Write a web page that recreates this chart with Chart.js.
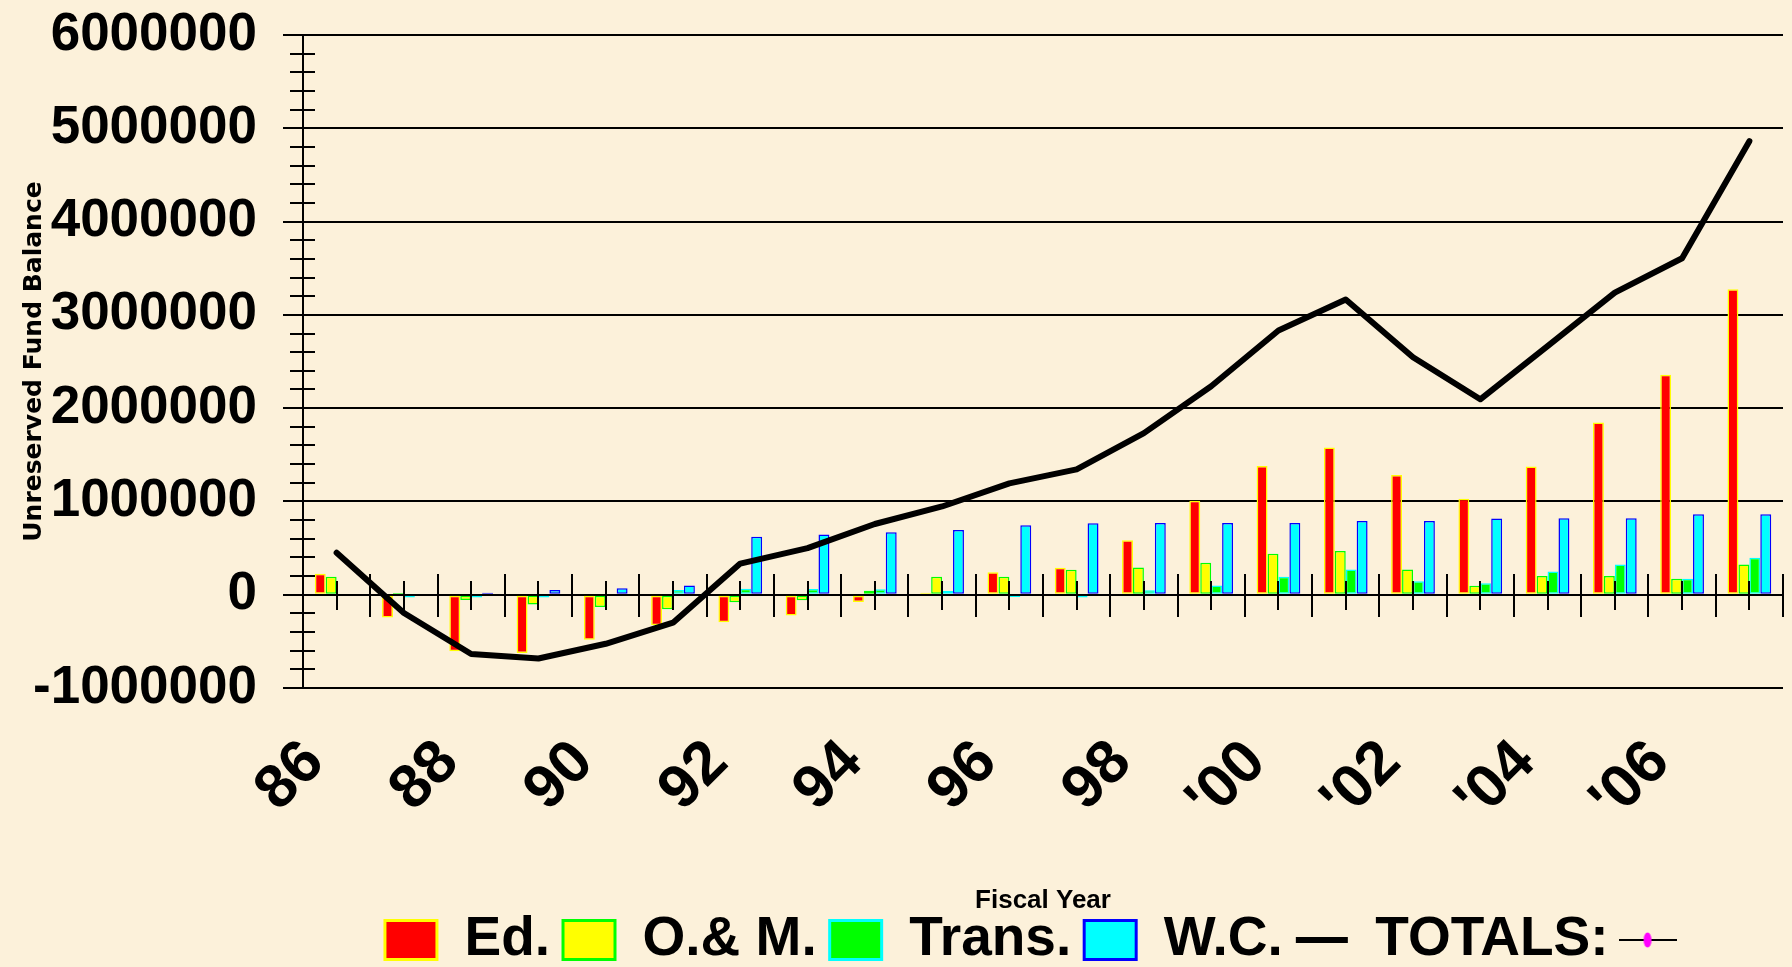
<!DOCTYPE html>
<html>
<head>
<meta charset="utf-8">
<title>Unreserved Fund Balance</title>
<script src="https://cdn.jsdelivr.net/npm/chart.js@4.4.1/dist/chart.umd.min.js"></script>
<style>
  html, body { margin: 0; padding: 0; overflow: hidden; background: #FCF1DA; }
  #wrap { position: relative; width: 1792px; height: 967px; }
</style>
</head>
<body>
<div id="wrap"><canvas id="chart"></canvas></div>
<script>
// Fiscal years on the category axis
const fiscalYears = ["86", "87", "88", "89", "90", "91", "92", "93", "94", "95", "96",
                     "97", "98", "99", "'00", "'01", "'02", "'03", "'04", "'05", "'06", "'07"];

// Unreserved fund balance per fund (dollars)
const edFund    = [225000, -245000, -607000, -625000, -484000, -328000, -294000, -222000, -78000, 20000, 240000,
                   289000, 585000, 1008000, 1380000, 1579000, 1284000, 1029000, 1375000, 1846000, 2358000, 3274000];
const omFund    = [193000, 18000, -56000, -105000, -133000, -155000, -82000, -60000, 42000, 193000, 193000,
                   268000, 293000, 342000, 440000, 468000, 270000, 97000, 200000, 200000, 170000, 325000];
const transFund = [0, -30000, -30000, -30000, 0, 50000, 65000, 62000, 58000, 40000, -25000,
                   -30000, 48000, 98000, 192000, 270000, 145000, 123000, 250000, 325000, 170000, 396000];
const wcFund    = [0, 0, 20000, 50000, 70000, 100000, 622000, 645000, 670000, 694000, 745000,
                   766000, 768000, 768000, 770000, 790000, 790000, 818000, 820000, 820000, 863000, 863000];
const totals    = [450000, -196000, -635000, -684000, -526000, -300000, 334000, 500000, 758000, 946000, 1194000,
                   1343000, 1732000, 2234000, 2833000, 3165000, 2546000, 2095000, 2665000, 3238000, 3607000, 4862000];

// Value axis range and tick steps
const valueMin = -1000000;
const valueMax = 6000000;
const majorStep = 1000000;
const minorStep = 200000;

// Pick a condensed bold face for the large labels when one is installed
function fontInstalled(name) {
  const c = document.createElement('canvas').getContext('2d');
  const probe = 'O.& M. 6000000 TOTALS: Trans.';
  let same = true;
  for (const generic of ['monospace', 'serif']) {
    c.font = 'bold 40px ' + generic;
    const a = c.measureText(probe).width;
    c.font = 'bold 40px "' + name + '", ' + generic;
    const b = c.measureText(probe).width;
    if (Math.abs(a - b) > 0.5) same = false;
  }
  return !same;
}
const narrow = fontInstalled('Liberation Sans Narrow');
const bigFamily = narrow ? '"Liberation Sans Narrow", "Liberation Sans", Arial, sans-serif'
                         : '"Liberation Sans", Arial, sans-serif';
const tickSize = narrow ? 64 : 53;
const yearSize = narrow ? 70 : 61;
const legendSize = narrow ? 66 : 55;

// Plot frame and the bottom band (axis labels, axis title, legend)
const plotLeft = 303;
const plotTop = 35;
const plotRightGap = 9;
const plotBottom = 688;
const legendPad = 13;
const legendMid = 940;
const legendTop = legendMid - legendSize / 2 - legendPad;
const xAxisHeight = legendTop - plotBottom;
const bottomPad = 967 - (legendTop + legendSize + legendPad + 10);

// Small legend glyph: a short rule with a magenta marker
const markerIcon = (() => {
  const c = document.createElement('canvas');
  c.width = 58; c.height = 18;
  const g = c.getContext('2d');
  g.strokeStyle = '#000'; g.lineWidth = 2;
  g.beginPath(); g.moveTo(0, 9); g.lineTo(58, 9); g.stroke();
  g.fillStyle = '#FF00FF';
  g.beginPath(); g.ellipse(29, 9, 4, 7.5, 0, 0, Math.PI * 2); g.fill();
  return c;
})();

// Minor value ticks across the value axis, and category ticks on the zero line
const axisMarks = {
  id: 'axisMarks',
  beforeDatasetDraw(chart, args) {
    if (args.meta.type !== 'line') return;
    const { ctx, scales: { x, y } } = chart;
    const axisX = chart.chartArea.left;
    const zeroY = Math.round(y.getPixelForValue(0));
    ctx.save();
    ctx.strokeStyle = '#000';
    ctx.lineWidth = 2;
    ctx.beginPath();
    for (let v = valueMin; v <= valueMax; v += minorStep) {
      if (v % majorStep === 0) continue;
      const py = Math.round(y.getPixelForValue(v));
      ctx.moveTo(axisX - 13, py);
      ctx.lineTo(axisX + 12, py);
    }
    const n = fiscalYears.length;
    for (let i = 0; i <= n; i++) {
      const px = Math.round(x.getPixelForValue(i - 0.5));
      ctx.moveTo(px, zeroY - 21);
      ctx.lineTo(px, zeroY + 22);
    }
    for (let i = 0; i < n; i++) {
      const px = Math.round(x.getPixelForValue(i));
      ctx.moveTo(px, zeroY - 14);
      ctx.lineTo(px, zeroY + 15);
    }
    ctx.stroke();
    ctx.restore();
  }
};

const barCommon = { type: 'bar', borderWidth: 1.5, borderSkipped: false, order: 1,
                    categoryPercentage: 0.65, barPercentage: 1.0 };

new Chart(document.getElementById('chart'), {
  data: {
    labels: fiscalYears,
    datasets: [
      Object.assign({ label: 'Ed.',    data: edFund,    backgroundColor: '#FF0000', borderColor: '#FFFF00' }, barCommon),
      Object.assign({ label: 'O.& M.', data: omFund,    backgroundColor: '#FFFF00', borderColor: '#00FF00' }, barCommon),
      Object.assign({ label: 'Trans.', data: transFund, backgroundColor: '#00FF00', borderColor: '#00FFFF' }, barCommon),
      Object.assign({ label: 'W.C.',   data: wcFund,    backgroundColor: '#00FFFF', borderColor: '#0000FF' }, barCommon),
      { type: 'line', label: 'TOTALS:', data: totals, borderColor: '#000000', backgroundColor: '#000000',
        borderWidth: 6, pointRadius: 0, pointHoverRadius: 0, tension: 0, fill: false, order: 0,
        borderCapStyle: 'round', borderJoinStyle: 'round' }
    ]
  },
  options: {
    responsive: true,
    maintainAspectRatio: false,
    devicePixelRatio: 1,
    animation: false,
    layout: { padding: { left: 0, right: plotRightGap, top: plotTop, bottom: bottomPad } },
    plugins: {
      tooltip: { enabled: false },
      legend: {
        position: 'bottom',
        fullSize: false,
        labels: {
          usePointStyle: true,
          pointStyleWidth: 52,
          boxHeight: 39,
          padding: legendPad,
          color: '#000',
          font: { family: bigFamily, size: legendSize, weight: 'bold' },
          generateLabels(chart) {
            const items = chart.data.datasets.map((ds, i) => ({
              text: ds.label,
              datasetIndex: i,
              fillStyle: ds.backgroundColor,
              strokeStyle: ds.borderColor,
              lineWidth: ds.type === 'line' ? 6 : 3,
              pointStyle: ds.type === 'line' ? 'line' : 'rect',
              fontColor: '#000',
              hidden: false
            }));
            items.push({ text: '', pointStyle: markerIcon, lineWidth: 0,
                         fillStyle: 'rgba(0,0,0,0)', strokeStyle: 'rgba(0,0,0,0)',
                         fontColor: '#000', hidden: false });
            return items;
          }
        }
      }
    },
    scales: {
      x: {
        offset: true,
        grid: { display: false, drawTicks: false },
        border: { display: false },
        ticks: {
          autoSkip: false,
          minRotation: 45,
          maxRotation: 45,
          padding: 43,
          labelOffset: -22,
          color: '#000',
          font: { family: bigFamily, size: yearSize, weight: 'bold', lineHeight: 1.0 },
          callback(value, index) { return index % 2 === 0 ? this.getLabelForValue(value) : ''; }
        },
        title: {
          display: true,
          text: 'Fiscal Year',
          color: '#000',
          font: { family: '"Liberation Sans", Arial, sans-serif', size: 26, weight: 'bold', lineHeight: 1.0 },
          padding: { top: 0, bottom: legendTop - 901 - 13 }
        },
        afterFit(scale) {
          scale.height = xAxisHeight;
          scale.paddingLeft = 0;
          scale.paddingRight = 0;
        }
      },
      y: {
        min: valueMin,
        max: valueMax,
        ticks: {
          stepSize: majorStep,
          padding: 26,
          color: '#000',
          font: { family: bigFamily, size: tickSize, weight: 'bold', lineHeight: 1.0 },
          callback(value) { return String(value); }
        },
        grid: { color: '#000', lineWidth: 2, tickLength: 20, tickColor: '#000', drawTicks: true },
        border: { display: true, color: '#000', width: 2 },
        title: {
          display: true,
          text: 'Unreserved Fund Balance',
          color: '#000',
          font: { family: '"DejaVu Sans", sans-serif', size: 25, weight: 'bold', lineHeight: 1.2 },
          padding: { top: 19, bottom: 0 }
        },
        afterFit(scale) {
          scale.width = plotLeft;
          scale.paddingTop = 0;
          scale.paddingBottom = 0;
        }
      }
    }
  },
  plugins: [axisMarks]
});
</script>
</body>
</html>
